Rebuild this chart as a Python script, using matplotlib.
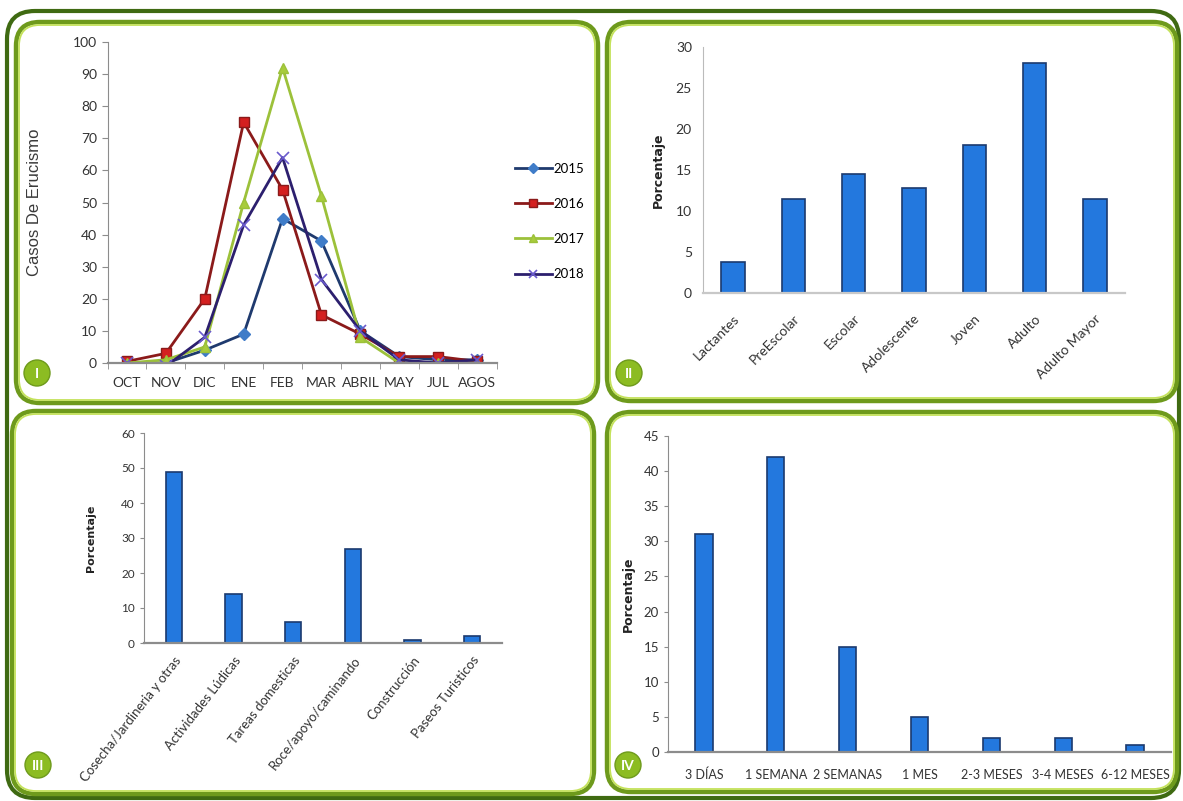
import matplotlib
matplotlib.use("Agg")
import matplotlib.pyplot as plt
from matplotlib.patches import FancyBboxPatch, Circle

W, H = 1183, 801
FONT = ["Lato", "DejaVu Sans"]
plt.rcParams["font.family"] = FONT

# ---- data -------------------------------------------------------------
months = ["OCT", "NOV", "DIC", "ENE", "FEB", "MAR", "ABRIL", "MAY", "JUL", "AGOS"]
cases_2015 = [0, 0, 4, 9, 45, 38, 10, 2, 1, 1]
cases_2016 = [0.5, 3, 20, 75, 54, 15, 9, 2, 2, 0.5]
cases_2017 = [0, 1, 5, 50, 92, 52, 8, 0, 0, 0]
cases_2018 = [0, -1, 8, 43, 64, 26, 10, 1, 0, 1]

age_groups = ["Lactantes", "PreEscolar", "Escolar", "Adolescente", "Joven", "Adulto", "Adulto Mayor"]
age_pct = [3.8, 11.5, 14.5, 12.8, 18, 28, 11.5]

activities = ["Cosecha/Jardineria y otras", "Actividades Lúdicas", "Tareas domesticas",
              "Roce/apoyo/caminando", "Construcción", "Paseos Turisticos"]
activity_pct = [49, 14, 6, 27, 1, 2]

durations = ["3 DÍAS", "1 SEMANA", "2 SEMANAS", "1 MES", "2-3 MESES", "3-4 MESES", "6-12 MESES"]
duration_pct = [31, 42, 15, 5, 2, 2, 1]

BAR_FC = "#2378de"
BAR_EC = "#1b3a6e"
AXIS_C = "#8c8c8c"
TXT_C = "#333333"


def px_rect(x0, y0, x1, y1):
    return [x0 / W, 1 - y1 / H, (x1 - x0) / W, (y1 - y0) / H]


fig = plt.figure(figsize=(W / 100, H / 100), dpi=100)

# background layer with the frames
bg = fig.add_axes([0, 0, 1, 1], zorder=0)
bg.set_xlim(0, W)
bg.set_ylim(H, 0)
bg.axis("off")
bg.add_patch(FancyBboxPatch((7, 11), 1172, 787, boxstyle="round,pad=0,rounding_size=28",
                            fill=False, ec="#3f6a12", lw=3))
panels = [(16, 22, 598, 403), (607, 22, 1177, 401), (12, 411, 594, 794), (607, 412, 1177, 792)]
for x0, y0, x1, y1 in panels:
    bg.add_patch(FancyBboxPatch((x0, y0), x1 - x0, y1 - y0, boxstyle="round,pad=0,rounding_size=24",
                                fill=False, ec="#6e9a1c", lw=3.2))
    bg.add_patch(FancyBboxPatch((x0 + 3, y0 + 3), x1 - x0 - 6, y1 - y0 - 6,
                                boxstyle="round,pad=0,rounding_size=21",
                                fill=False, ec="#c4e25a", lw=1.3))
for (cx, cy), lab in zip([(37, 373), (629, 373), (38, 765), (628, 765)], ["I", "II", "III", "IV"]):
    bg.add_patch(Circle((cx, cy), 13, fc="#8cbc22", ec="#6e9a1c", lw=1))
    bg.text(cx, cy + 1, lab, color="white", ha="center", va="center", fontsize=10, fontweight="bold")


def style_axes(ax, ticks_y=True):
    for s in ("top", "right"):
        ax.spines[s].set_visible(False)
    ax.spines["left"].set_color(AXIS_C)
    ax.spines["bottom"].set_color(AXIS_C)
    ax.spines["bottom"].set_linewidth(1.6)
    ax.tick_params(axis="y", colors=TXT_C, length=4 if ticks_y else 0, color=AXIS_C)
    ax.tick_params(axis="x", colors=TXT_C, length=0)
    ax.set_facecolor("none")


# ---- I: line chart ----------------------------------------------------
ax1 = fig.add_axes(px_rect(107.5, 42, 496.5, 363), zorder=1)
x = range(len(months))
ax1.plot(x, cases_2015, color="#1f3a6e", marker="D", ms=6, mfc="#3f7cc8", mec="#3f7cc8", lw=2, label="2015")
ax1.plot(x, cases_2016, color="#8b1a1a", marker="s", ms=7, mfc="#d42020", mec="#8b1a1a", lw=2, label="2016")
ax1.plot(x, cases_2017, color="#9cc13a", marker="^", ms=7, mfc="#a8cc3c", mec="#9cc13a", lw=2, label="2017")
ax1.plot(x, cases_2018, color="#2c1f6e", marker="x", ms=8, mew=1.2, mec="#6a5acd", lw=2, label="2018")
ax1.set_xlim(-0.5, len(months) - 0.5)
ax1.set_ylim(0, 100)
ax1.set_yticks(range(0, 101, 10))
ax1.set_xticks(list(x))
ax1.set_xticklabels(months, fontsize=10)
ax1.set_xticks([i - 0.5 for i in range(len(months) + 1)], minor=True)
style_axes(ax1)
ax1.tick_params(axis="y", labelsize=10)
ax1.tick_params(axis="x", which="minor", length=4, color=AXIS_C)
ax1.tick_params(axis="x", pad=10)
ax1.set_ylabel("Casos De Erucismo", fontsize=12, color="#3a3a3a", family="Liberation Sans",
               labelpad=22)
ax1.legend(loc="upper left", bbox_to_anchor=(503 / W, 1 - 151 / H), bbox_transform=fig.transFigure,
           frameon=False, fontsize=9.5, labelspacing=1.75, handlelength=2.8, handletextpad=0.1,
           markerscale=0.8)

# ---- II: age groups ---------------------------------------------------
ax2 = fig.add_axes(px_rect(703, 47, 1125, 293), zorder=1)
ax2.bar(range(len(age_groups)), age_pct, width=0.39, color=BAR_FC, edgecolor=BAR_EC, lw=1.2)
ax2.set_xlim(-0.5, len(age_groups) - 0.5)
ax2.set_ylim(0, 30)
ax2.set_yticks(range(0, 31, 5))
ax2.set_xticks(range(len(age_groups)))
ax2.set_xticklabels(age_groups, rotation=45, ha="right", rotation_mode="anchor", fontsize=10)
style_axes(ax2, ticks_y=False)
ax2.spines["left"].set_color("#bbbbbb")
ax2.spines["bottom"].set_color("#c8c8c8")
ax2.tick_params(axis="y", labelsize=10, pad=8)
ax2.tick_params(axis="x", pad=14)
ax2.set_ylabel("Porcentaje", fontsize=9, fontweight="bold", color="#222222", family="DejaVu Sans",
               labelpad=8)

# ---- III: activities --------------------------------------------------
ax3 = fig.add_axes(px_rect(144, 433, 502, 643), zorder=1)
ax3.bar(range(len(activities)), activity_pct, width=0.27, color=BAR_FC, edgecolor=BAR_EC, lw=1.2)
ax3.set_xlim(-0.5, len(activities) - 0.5)
ax3.set_ylim(0, 60)
ax3.set_yticks(range(0, 61, 10))
ax3.set_xticks(range(len(activities)))
ax3.set_xticklabels(activities, rotation=52, ha="right", rotation_mode="anchor", fontsize=9.5)
style_axes(ax3)
ax3.tick_params(axis="y", labelsize=8.5, length=3)
ax3.tick_params(axis="x", pad=8)
ax3.set_ylabel("Porcentaje", fontsize=8, fontweight="bold", color="#222222", family="DejaVu Sans",
               labelpad=18)

# ---- IV: duration -----------------------------------------------------
ax4 = fig.add_axes(px_rect(668, 436, 1171, 752), zorder=1)
ax4.bar(range(len(durations)), duration_pct, width=0.24, color=BAR_FC, edgecolor=BAR_EC, lw=1.2)
ax4.set_xlim(-0.5, len(durations) - 0.5)
ax4.set_ylim(0, 45)
ax4.set_yticks(range(0, 46, 5))
ax4.set_xticks(range(len(durations)))
ax4.set_xticklabels(durations, fontsize=9)
style_axes(ax4)
ax4.tick_params(axis="y", labelsize=9.5, length=3)
ax4.tick_params(axis="x", pad=12)
ax4.set_ylabel("Porcentaje", fontsize=9, fontweight="bold", color="#222222", family="DejaVu Sans",
               labelpad=6)

fig.savefig("out.png", dpi=100)
